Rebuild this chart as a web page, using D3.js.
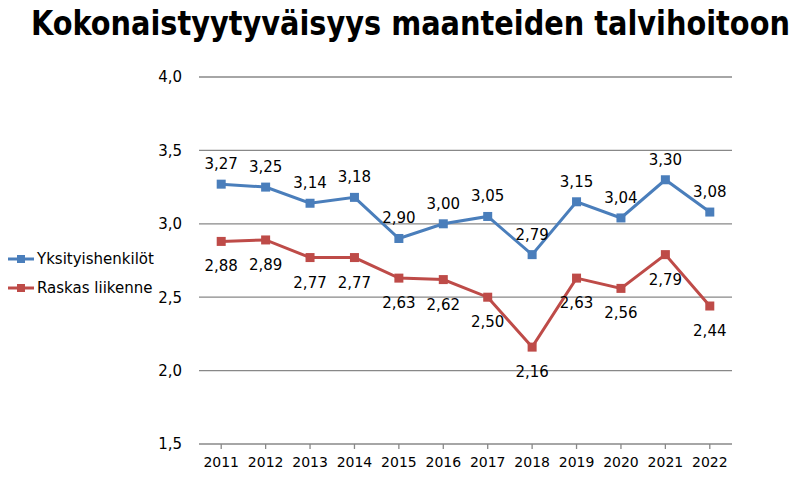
<!DOCTYPE html>
<html lang="fi">
<head>
<meta charset="utf-8">
<title>Kokonaistyytyväisyys maanteiden talvihoitoon</title>
<script src="https://cdn.jsdelivr.net/npm/d3@7/dist/d3.min.js"></script>
<style>
  body { margin: 0; background: #fff; }
  text { font-family: "DejaVu Sans", Verdana, sans-serif; fill: #000; }
</style>
</head>
<body>
<script>
// data
var years = ["2011","2012","2013","2014","2015","2016","2017","2018","2019","2020","2021","2022"];
var yksityiset = [3.27, 3.25, 3.14, 3.18, 2.90, 3.00, 3.05, 2.79, 3.15, 3.04, 3.30, 3.08];
var raskas = [2.88, 2.89, 2.77, 2.77, 2.63, 2.62, 2.50, 2.16, 2.63, 2.56, 2.79, 2.44];
var yTicks = [1.5, 2.0, 2.5, 3.0, 3.5, 4.0];
var seriesNames = ["Yksityishenkilöt", "Raskas liikenne"];
var colors = ["#4a7ebb", "#be4b48"];

var w = 803, h = 494;
var plotLeft = 199, plotRight = 732, plotTop = 77, plotBottom = 444;

var svg = d3.select("body").append("svg")
  .attr("width", w)
  .attr("height", h);

var x = d3.scaleBand().domain(years).range([plotLeft, plotRight]);
var y = d3.scaleLinear().domain([1.5, 4.0]).range([plotBottom, plotTop]);
var fmt = function(v, n) { return v.toFixed(n).replace(".", ","); };

// title - squeezed horizontally to fit like the original
var title = svg.append("text")
  .attr("x", 0).attr("y", 0)
  .style("font-family", "'DejaVu Sans Condensed', 'DejaVu Sans', sans-serif")
  .attr("font-weight", "bold")
  .attr("font-size", "33px")
  .text("Kokonaistyytyväisyys maanteiden talvihoitoon");
var tw = title.node().getComputedTextLength();
title.attr("transform", "translate(31,35) scale(" + (759 / tw) + ",1)");

// gridlines
svg.append("g").selectAll("line")
  .data(yTicks.slice(1))
  .enter().append("line")
  .attr("x1", plotLeft).attr("x2", plotRight)
  .attr("y1", function(d) { return y(d); })
  .attr("y2", function(d) { return y(d); })
  .attr("stroke", "#888").attr("stroke-width", 1.3);

// y axis labels
var yAxis = svg.append("g")
  .attr("transform", "translate(" + (plotLeft - 14) + ",0)")
  .call(d3.axisLeft(y).tickValues(yTicks).tickSize(0).tickFormat(function(d) { return fmt(d, 1); }));
yAxis.select(".domain").remove();
yAxis.selectAll("text").attr("font-size", "15px").style("font-family", "'DejaVu Sans', sans-serif");

// x axis
var xAxis = svg.append("g")
  .attr("transform", "translate(0," + plotBottom + ")")
  .call(d3.axisBottom(x).tickSize(5).tickPadding(8));
xAxis.select(".domain").attr("stroke", "#888").attr("stroke-width", 1.3)
  .attr("d", "M" + plotLeft + ",0H" + plotRight);
xAxis.selectAll(".tick line").attr("stroke", "#888").attr("stroke-width", 1.3);
xAxis.selectAll("text").attr("font-size", "14px").style("font-family", "'DejaVu Sans', sans-serif");

var line = d3.line()
  .x(function(d, i) { return x(years[i]) + x.bandwidth() / 2; })
  .y(function(d) { return y(d); });

[yksityiset, raskas].forEach(function(data, s) {
  var g = svg.append("g");
  g.append("path")
    .datum(data)
    .attr("d", line)
    .attr("fill", "none")
    .attr("stroke", colors[s])
    .attr("stroke-width", 3);
  g.selectAll("rect")
    .data(data)
    .enter().append("rect")
    .attr("x", function(d, i) { return x(years[i]) + x.bandwidth() / 2 - 4.5; })
    .attr("y", function(d) { return y(d) - 4.5; })
    .attr("width", 9).attr("height", 9)
    .attr("fill", colors[s]);
  g.selectAll("text")
    .data(data)
    .enter().append("text")
    .attr("text-anchor", "middle")
    .attr("font-size", "15px")
    .attr("x", function(d, i) { return x(years[i]) + x.bandwidth() / 2; })
    .attr("y", function(d) { return s === 0 ? y(d) - 15 : y(d) + 30; })
    .text(function(d) { return fmt(d, 2); });
});

// legend
var legend = svg.append("g");
seriesNames.forEach(function(name, s) {
  var ly = 259 + s * 29;
  legend.append("line")
    .attr("x1", 8).attr("x2", 34)
    .attr("y1", ly).attr("y2", ly)
    .attr("stroke", colors[s]).attr("stroke-width", 3);
  legend.append("rect")
    .attr("x", 17).attr("y", ly - 4).attr("width", 8).attr("height", 8)
    .attr("fill", colors[s]);
  legend.append("text")
    .attr("x", 37).attr("y", ly + 5)
    .attr("font-size", "15px")
    .text(name);
});
</script>
</body>
</html>
